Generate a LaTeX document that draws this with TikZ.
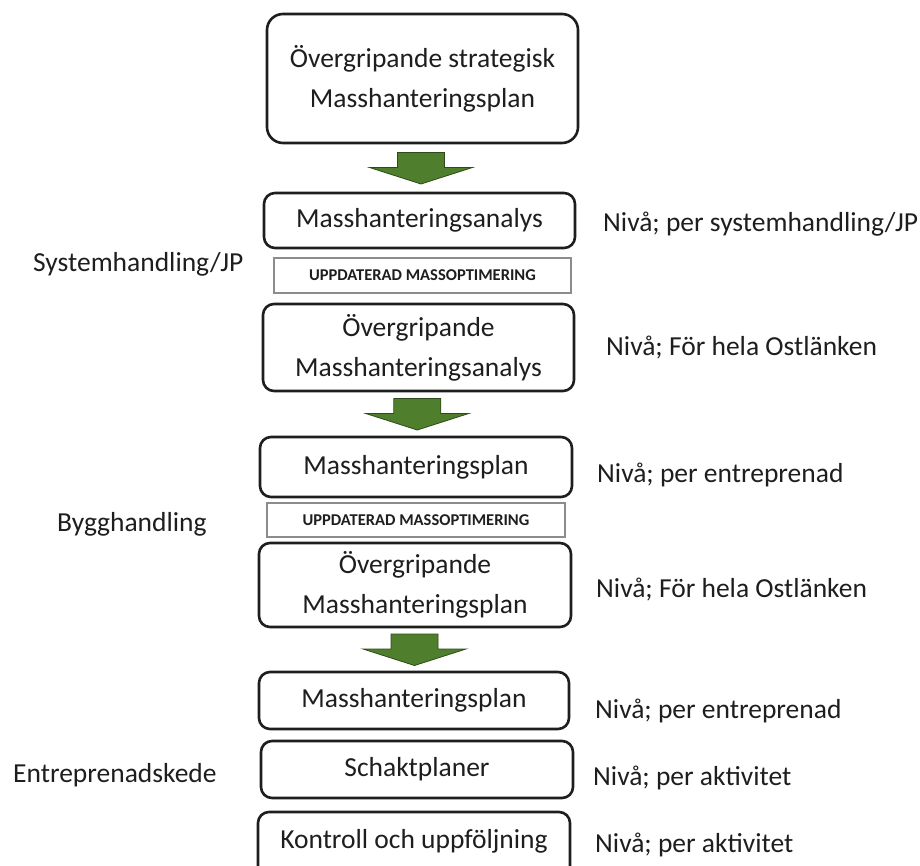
\documentclass[tikz,border=0pt]{standalone}
\usepackage{fontspec}
\setmainfont{Carlito}
\usetikzlibrary{calc}

\definecolor{inkgray}{HTML}{1E1E1E}
\definecolor{framegray}{HTML}{8C8C8C}
\definecolor{arrowgreen}{HTML}{4F7F2C}
\definecolor{arrowedge}{HTML}{2E4A1A}

\tikzset{
  stagebox/.style={draw=inkgray, line width=2.6pt, rounded corners=11pt,
    align=center, text=inkgray, inner sep=0pt,
    font=\fontsize{27.5}{40}\selectfont},
  updbox/.style={draw=framegray, line width=1.4pt, text=inkgray, inner sep=0pt,
    font=\bfseries\fontsize{16.5}{20}\selectfont},
  levellabel/.style={anchor=base west, text=inkgray, inner sep=0pt,
    font=\fontsize{27.5}{33}\selectfont},
  phaselabel/.style={levellabel},
  blockarrow/.pic={
    \draw[fill=arrowgreen, draw=arrowedge, line width=0.8pt, line join=miter]
      (-23.5,-15.5) -- (23.5,-15.5) -- (23.5,-0.5) -- (51.5,-0.5)
      -- (0,16) -- (-51.5,-0.5) -- (-23.5,-0.5) -- cycle;
  }
}

\begin{document}
\begin{tikzpicture}[x=1pt,y=-1pt]
  \useasboundingbox[fill=white] (0,0) rectangle (920,866);

  % process stages
  \node[stagebox, rounded corners=16pt, minimum width=311pt, minimum height=129pt]
    (b1) at (422.5,78.5) {Övergripande strategisk\\Masshanteringsplan};
  \node[stagebox, minimum width=311pt, minimum height=55pt]
    (b2) at (419.5,220.5) {Masshanteringsanalys};
  \node[updbox, minimum width=297pt, minimum height=35pt]
    (u1) at (422.5,275.5) {UPPDATERAD MASSOPTIMERING};
  \node[stagebox, minimum width=311pt, minimum height=87pt]
    (b3) at (418.5,347.5) {Övergripande\\Masshanteringsanalys};
  \node[stagebox, minimum width=312pt, minimum height=60pt]
    (b4) at (416,467) {Masshanteringsplan};
  \node[updbox, minimum width=298pt, minimum height=34pt]
    (u2) at (416,520) {UPPDATERAD MASSOPTIMERING};
  \node[stagebox, minimum width=312pt, minimum height=84pt]
    (b5) at (415,585) {Övergripande\\Masshanteringsplan};
  \node[stagebox, minimum width=310pt, minimum height=57pt]
    (b6) at (414,700.5) {Masshanteringsplan};
  \node[stagebox, minimum width=312pt, minimum height=57pt]
    (b7) at (417,769.5) {Schaktplaner};
  \node[stagebox, minimum width=312pt, minimum height=66pt, text depth=13pt]
    (b8) at (414,845) {Kontroll och uppföljning};

  % green block arrows between the phases
  \coordinate (a1) at ($(b1.south)!0.5!(b2.north)$);
  \coordinate (a2) at ($(b3.south)!0.5!(b4.north)$);
  \coordinate (a3) at ($(b5.south)!0.5!(b6.north)$);
  \path (a1) pic {blockarrow};
  \path (a2) pic {blockarrow};
  \path (a3) pic {blockarrow};

  % level of each document
  \node[levellabel] (l1) at (603,232) {Nivå; per systemhandling/JP};
  \node[levellabel] (l2) at (606,355) {Nivå; För hela Ostlänken};
  \node[levellabel] (l3) at (597,482) {Nivå; per entreprenad};
  \node[levellabel] (l4) at (596,597) {Nivå; För hela Ostlänken};
  \node[levellabel] (l5) at (595,718) {Nivå; per entreprenad};
  \node[levellabel] (l6) at (593,785) {Nivå; per aktivitet};
  \node[levellabel] (l7) at (595,852) {Nivå; per aktivitet};

  % project phases
  \node[phaselabel] (p1) at (33,272) {Systemhandling/JP};
  \node[phaselabel] (p2) at (57,531) {Bygghandling};
  \node[phaselabel] (p3) at (13,782) {Entreprenadskede};
\end{tikzpicture}
\end{document}
